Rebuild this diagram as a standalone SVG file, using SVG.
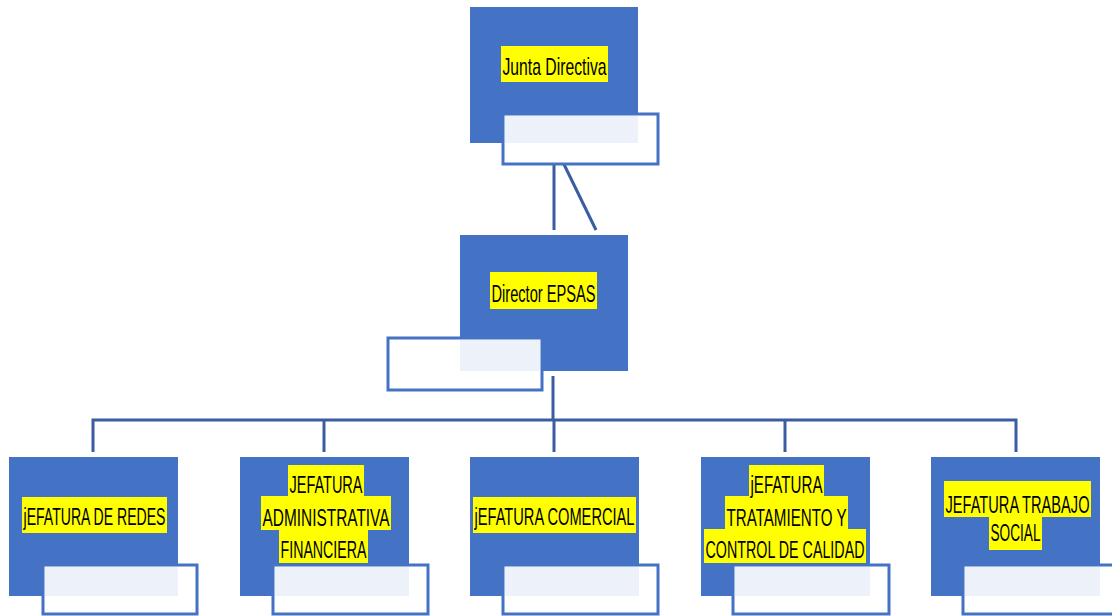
<svg xmlns="http://www.w3.org/2000/svg" width="1112" height="616" viewBox="0 0 1112 616">
<style>
.box{fill:#4472C4}
.sub{fill:#FFFFFF;stroke:#4472C4;stroke-width:3}
.lt{fill:#EDF1F9}
.hl{fill:#FFFF00}
.tx{font-family:"Liberation Sans",Arial,sans-serif;font-size:15px;fill:#000;text-anchor:middle}
.cn{stroke:#3B5CA0;stroke-width:3;fill:none}
</style>
<rect width="1112" height="616" fill="#FFFFFF"/>
<g id="connectors">
<line class="cn" x1="554" y1="150" x2="554" y2="230"/>
<line class="cn" x1="557" y1="150" x2="596" y2="230"/>
<line class="cn" x1="553" y1="376" x2="553" y2="420"/>
<polyline class="cn" points="93,452 93,420 1016,420 1016,452"/>
<line class="cn" x1="324" y1="420" x2="324" y2="452"/>
<line class="cn" x1="554" y1="420" x2="554" y2="452"/>
<line class="cn" x1="785" y1="420" x2="785" y2="452"/>
</g>
<g id="junta">
<rect class="box" x="470" y="7" width="168" height="136"/>
<rect class="hl" x="501" y="46" width="107" height="36"/>
<text class="tx" textLength="104" lengthAdjust="spacingAndGlyphs" transform="translate(554.5,75) scale(1,1.6)">Junta Directiva</text>
<rect class="sub" x="503" y="114" width="155" height="50"/>
<rect class="lt" x="505" y="116" width="133" height="27"/>
</g>
<g id="director">
<rect class="box" x="460" y="235" width="168" height="136"/>
<rect class="hl" x="490" y="272" width="107" height="37"/>
<text class="tx" textLength="104" lengthAdjust="spacingAndGlyphs" transform="translate(543.5,302) scale(1,1.6)">Director EPSAS</text>
<rect class="sub" x="388" y="338" width="154" height="52"/>
<rect class="lt" x="460" y="340" width="80" height="31"/>
</g>
<g id="redes">
<rect class="box" x="9" y="457" width="169" height="139"/>
<rect class="hl" x="22" y="497" width="145" height="36"/>
<text class="tx" textLength="142" lengthAdjust="spacingAndGlyphs" transform="translate(94.5,525) scale(1,1.6)">jEFATURA DE REDES</text>
<rect class="sub" x="43" y="565" width="154" height="49"/>
<rect class="lt" x="45" y="567" width="133" height="29"/>
</g>
<g id="administrativa">
<rect class="box" x="240" y="457" width="169" height="139"/>
<rect class="hl" x="288" y="465" width="76" height="32"/>
<rect class="hl" x="261" y="496" width="130" height="34"/>
<rect class="hl" x="279" y="529" width="89" height="34"/>
<text class="tx" textLength="73" lengthAdjust="spacingAndGlyphs" transform="translate(326,493) scale(1,1.6)">JEFATURA</text>
<text class="tx" textLength="127" lengthAdjust="spacingAndGlyphs" transform="translate(326,526) scale(1,1.6)">ADMINISTRATIVA</text>
<text class="tx" textLength="86" lengthAdjust="spacingAndGlyphs" transform="translate(323.5,558) scale(1,1.6)">FINANCIERA</text>
<rect class="sub" x="273" y="565" width="155" height="49"/>
<rect class="lt" x="275" y="567" width="134" height="29"/>
</g>
<g id="comercial">
<rect class="box" x="470" y="457" width="169" height="139"/>
<rect class="hl" x="473" y="497" width="163" height="36"/>
<text class="tx" textLength="160" lengthAdjust="spacingAndGlyphs" transform="translate(554.5,525) scale(1,1.6)">jEFATURA COMERCIAL</text>
<rect class="sub" x="503" y="565" width="155" height="49"/>
<rect class="lt" x="505" y="567" width="134" height="29"/>
</g>
<g id="tratamiento">
<rect class="box" x="701" y="457" width="169" height="139"/>
<rect class="hl" x="749" y="465" width="75" height="32"/>
<rect class="hl" x="725" y="496" width="123" height="34"/>
<rect class="hl" x="704" y="529" width="162" height="34"/>
<text class="tx" textLength="72" lengthAdjust="spacingAndGlyphs" transform="translate(786.5,493) scale(1,1.6)">jEFATURA</text>
<text class="tx" textLength="120" lengthAdjust="spacingAndGlyphs" transform="translate(786.5,526) scale(1,1.6)">TRATAMIENTO Y</text>
<text class="tx" textLength="159" lengthAdjust="spacingAndGlyphs" transform="translate(785,558) scale(1,1.6)">CONTROL DE CALIDAD</text>
<rect class="sub" x="733" y="565" width="156" height="49"/>
<rect class="lt" x="735" y="567" width="135" height="29"/>
</g>
<g id="social">
<rect class="box" x="931" y="457" width="169" height="139"/>
<rect class="hl" x="944" y="481" width="147" height="36"/>
<rect class="hl" x="989" y="516" width="53" height="34"/>
<text class="tx" textLength="144" lengthAdjust="spacingAndGlyphs" transform="translate(1017.5,513) scale(1,1.6)">JEFATURA TRABAJO</text>
<text class="tx" textLength="50" lengthAdjust="spacingAndGlyphs" transform="translate(1015.5,541) scale(1,1.6)">SOCIAL</text>
<rect class="sub" x="963" y="565" width="156" height="49"/>
<rect class="lt" x="965" y="567" width="135" height="29"/>
</g>
</svg>
